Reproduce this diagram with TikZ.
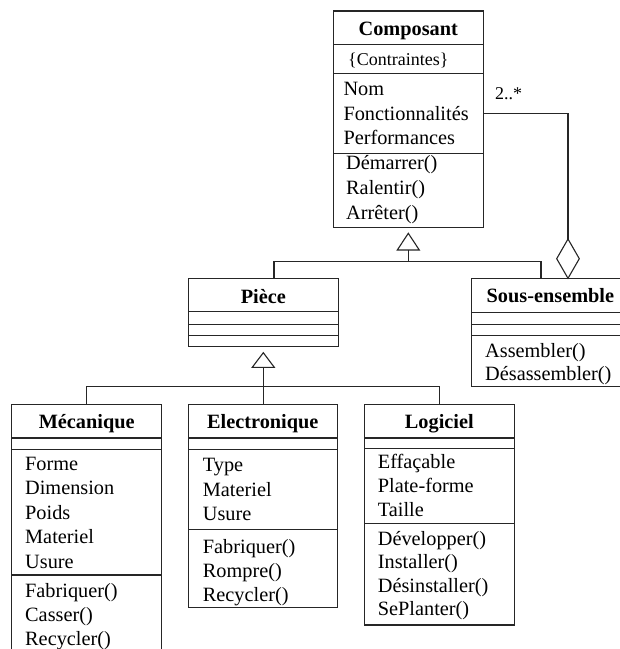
\documentclass[tikz,border=0pt]{standalone}
\usepackage{fontspec}
\setmainfont{Liberation Serif}
\definecolor{lc}{gray}{0.15}
\begin{document}
\begin{tikzpicture}[x=1pt,y=-1pt,
  cls/.style={draw=lc, line width=1.2pt, inner sep=0pt, outer sep=0pt, anchor=north west, fill=white},
  sepline/.style={draw=lc, line width=1.2pt},
  conn/.style={draw=lc, line width=1.1pt},
  ttl/.style={font=\fontsize{20.3}{24}\selectfont\bfseries, inner sep=0pt, anchor=base},
  itm/.style={font=\fontsize{20.3}{24}\selectfont, inner sep=0pt, anchor=base west},
  small/.style={font=\fontsize{18}{21}\selectfont, inner sep=0pt, anchor=base west},
]
\useasboundingbox (0,0) rectangle (620,649);
\fill[white] (0,0) rectangle (620,649);
\clip (0,0) rectangle (620,649);

% ---------- Composant ----------
\node[cls, minimum width=150, minimum height=216.7] (comp) at (333.3,11) {};
\draw[sepline] (333.3,44.3) -- (483.3,44.3);
\draw[sepline] (333.3,73.3) -- (483.3,73.3);
\draw[sepline] (333.3,153.3) -- (483.3,153.3);
\node[ttl] (compT) at (408.3,35) {Composant};
\node[small] (compC) at (348,65.5) {\{Contraintes\}};
\node[itm] (compA1) at (343.3,95.5) {Nom};
\node[itm] (compA2) at (343.3,120) {Fonctionnalités};
\node[itm] (compA3) at (343.3,144.5) {Performances};
\node[itm] (compM1) at (346,169.5) {Démarrer()};
\node[itm] (compM2) at (346,194.5) {Ralentir()};
\node[itm] (compM3) at (346,219) {Arrêter()};

% ---------- Pièce ----------
\node[cls, minimum width=150, minimum height=68.4] (piece) at (188.3,278.3) {};
\draw[sepline] (188.3,311.7) -- (338.3,311.7);
\draw[sepline] (188.3,324.3) -- (338.3,324.3);
\draw[sepline] (188.3,335.5) -- (338.3,335.5);
\node[ttl] (pieceT) at (263.3,303) {Pièce};

% ---------- Sous-ensemble ----------
\node[cls, minimum width=160, minimum height=108.4] (sous) at (471.7,278.3) {};
\draw[sepline] (471.7,312.5) -- (631.7,312.5);
\draw[sepline] (471.7,324.3) -- (631.7,324.3);
\draw[sepline] (471.7,335.7) -- (631.7,335.7);
\node[ttl, anchor=base west] (sousT) at (486.5,302) {Sous-ensemble};
\node[itm] (sousM1) at (485,357) {Assembler()};
\node[itm] (sousM2) at (485,380) {Désassembler()};

% ---------- Mécanique ----------
\node[cls, minimum width=150, minimum height=260] (meca) at (11.7,404.3) {};
\draw[sepline] (11.7,438) -- (161.7,438);
\draw[sepline] (11.7,449.3) -- (161.7,449.3);
\draw[sepline] (11.7,575) -- (161.7,575);
\node[ttl] (mecaT) at (86.7,428.5) {Mécanique};
\node[itm] (mecaA1) at (25,470) {Forme};
\node[itm] (mecaA2) at (25,494.5) {Dimension};
\node[itm] (mecaA3) at (25,519) {Poids};
\node[itm] (mecaA4) at (25,543.5) {Materiel};
\node[itm] (mecaA5) at (25,568) {Usure};
\node[itm] (mecaM1) at (25,597) {Fabriquer()};
\node[itm] (mecaM2) at (25,621) {Casser()};
\node[itm] (mecaM3) at (25,645) {Recycler()};

% ---------- Electronique ----------
\node[cls, minimum width=149, minimum height=203.4] (elec) at (188.3,404.3) {};
\draw[sepline] (188.3,438) -- (337.3,438);
\draw[sepline] (188.3,449.3) -- (337.3,449.3);
\draw[sepline] (188.3,529.3) -- (337.3,529.3);
\node[ttl] (elecT) at (262.8,428.5) {Electronique};
\node[itm] (elecA1) at (202.7,471.5) {Type};
\node[itm] (elecA2) at (202.7,496) {Materiel};
\node[itm] (elecA3) at (202.7,520.5) {Usure};
\node[itm] (elecM1) at (202.7,553) {Fabriquer()};
\node[itm] (elecM2) at (202.7,577) {Rompre()};
\node[itm] (elecM3) at (202.7,601) {Recycler()};

% ---------- Logiciel ----------
\node[cls, minimum width=150, minimum height=220.7] (logi) at (364.3,404.3) {};
\draw[sepline] (364.3,438) -- (514.3,438);
\draw[sepline] (364.3,448.8) -- (514.3,448.8);
\draw[sepline] (364.3,523.5) -- (514.3,523.5);
\node[ttl] (logiT) at (439.3,428.5) {Logiciel};
\node[itm] (logiA1) at (377.7,468) {Effaçable};
\node[itm] (logiA2) at (377.7,492.5) {Plate-forme};
\node[itm] (logiA3) at (377.7,516.5) {Taille};
\node[itm] (logiM1) at (377.7,545) {Développer()};
\node[itm] (logiM2) at (377.7,568.5) {Installer()};
\node[itm] (logiM3) at (377.7,592) {Désinstaller()};
\node[itm] (logiM4) at (377.7,615.5) {SePlanter()};

% ---------- Generalisation Composant <- Pièce, Sous-ensemble ----------
\coordinate (g1apex) at (408.3,233.3);
\coordinate (g1base) at (408.3,250);
\coordinate (g1join) at (408.3,261.7);
\coordinate (pieceIn) at (274,278.3);
\coordinate (sousIn) at (541,278.3);
\draw[conn, fill=white] (g1apex) -- (397.3,250) -- (419.3,250) -- cycle;
\draw[conn] (g1base) -- (g1join);
\draw[conn] (g1join) -| (pieceIn);
\draw[conn] (g1join) -| (sousIn);

% ---------- Generalisation Pièce <- Mécanique, Electronique, Logiciel ----------
\coordinate (g2apex) at (263.3,352.7);
\coordinate (g2base) at (263.3,367.3);
\coordinate (g2join) at (263.3,386.7);
\draw[conn, fill=white] (g2apex) -- (252.3,367.3) -- (274.3,367.3) -- cycle;
\draw[conn] (g2base) -- (g2join);
\draw[conn] (g2join) -| (meca.north);
\draw[conn] (g2join) -| (logi.north);
\draw[conn] (g2join) -- (elec.north -| g2join);

% ---------- Aggregation Sous-ensemble <>- Composant ----------
\coordinate (aggStart) at (483.3,113.3);
\coordinate (aggTop) at (568,239);
\draw[conn] (aggStart) -| (aggTop);
\draw[conn, fill=white] (aggTop) -- (579.3,258.7) -- (568,278.3) -- (556.7,258.7) -- cycle;
\node[small, anchor=base west] (mult) at (495,99) {2..*};
\end{tikzpicture}
\end{document}
